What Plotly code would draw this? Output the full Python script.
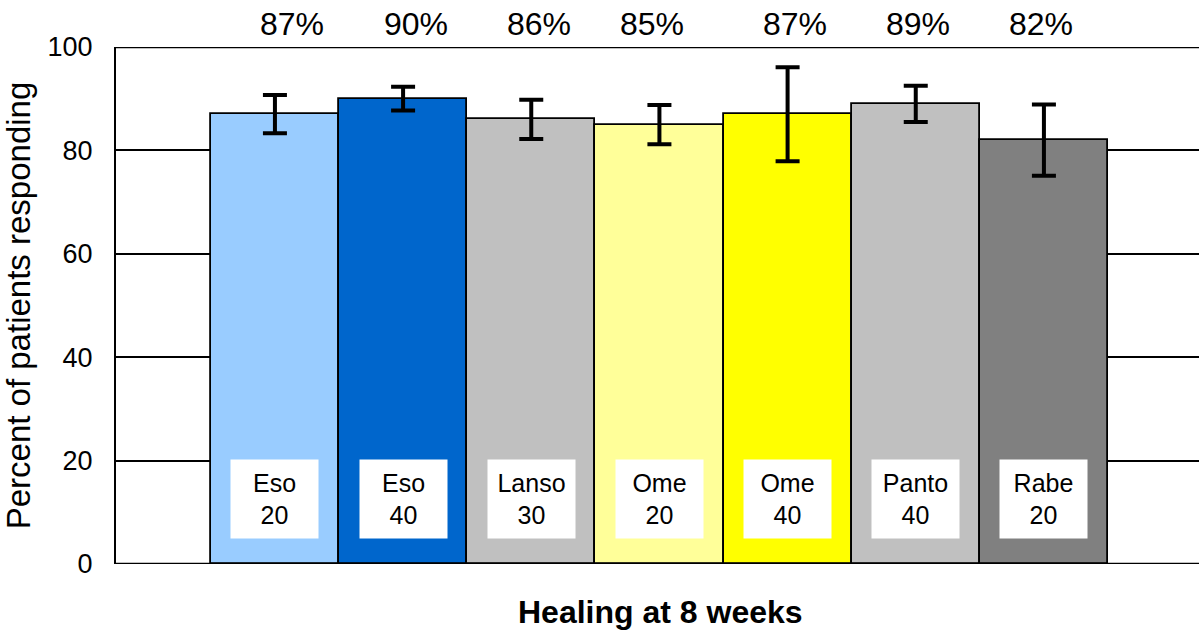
import plotly.graph_objects as go

drugs = ["Eso", "Eso", "Lanso", "Ome", "Ome", "Panto", "Rabe"]
doses = ["20", "40", "30", "20", "40", "40", "20"]
values = [87, 90, 86, 85, 87, 89, 82]
errors = [3.7, 2.3, 3.8, 3.8, 9.1, 3.5, 6.9]
colors = ["#99CCFF", "#0066CC", "#C0C0C0", "#FFFF99", "#FFFF00", "#C0C0C0", "#808080"]
y_ticks = [0, 20, 40, 60, 80, 100]
label_xshift = [17, 13, 8, -7, 7, 2, -3]

FONT = "Arial, Liberation Sans, sans-serif"
xs = list(range(len(values)))

fig = go.Figure()
fig.add_trace(go.Bar(
    x=xs, y=values, width=1.0,
    marker=dict(color=colors, line=dict(color="black", width=1.8)),
    error_y=dict(type="data", array=errors, visible=True, color="black",
                 thickness=4, width=12),
    showlegend=False, hoverinfo="skip",
))

annotations = []
for x, v, dx in zip(xs, values, label_xshift):
    annotations.append(dict(x=x, y=1, xref="x", yref="paper", yanchor="middle",
                            yshift=23, xshift=dx, text=f"{v}%", showarrow=False,
                            font=dict(family=FONT, size=32, color="black")))
for x, d, n in zip(xs, drugs, doses):
    annotations.append(dict(x=x, y=12.6, xref="x", yref="y", text=f"{d}<br>{n}",
                            showarrow=False, bgcolor="white", width=85, height=76,
                            font=dict(family=FONT, size=25, color="black")))
annotations.append(dict(x=(660 - 116) / (1199 - 116), y=0, xref="paper", yref="paper",
                        yanchor="middle", yshift=-48,
                        text="<b>Healing at 8 weeks</b>", showarrow=False,
                        font=dict(family=FONT, size=32, color="black")))

fig.update_layout(
    width=1199, height=632,
    margin=dict(l=116, r=0, t=47, b=68),
    paper_bgcolor="white", plot_bgcolor="white",
    bargap=0,
    xaxis=dict(range=[-1.24, 7.21], showticklabels=False, showgrid=False,
               zeroline=False, showline=False, ticks=""),
    yaxis=dict(range=[0, 100], tickvals=y_ticks, showgrid=True, gridcolor="black",
               gridwidth=1.5, zeroline=False, showline=True, linecolor="black",
               linewidth=2, ticks="", ticklen=0, ticklabelstandoff=16,
               tickfont=dict(family=FONT, size=27, color="black"),
               title=dict(text="Percent of patients responding", standoff=12,
                          font=dict(family=FONT, size=33, color="black"))),
    annotations=annotations,
    shapes=[
        dict(type="line", xref="paper", yref="y", x0=0, x1=1, y0=100, y1=100,
             line=dict(color="black", width=2.5)),
        dict(type="line", xref="paper", yref="y", x0=0, x1=1, y0=0, y1=0,
             line=dict(color="black", width=2.5)),
    ],
)

fig.write_html("out.html", config={"displayModeBar": False},
               post_script="document.body.style.margin='0';document.body.style.overflow='hidden';")
